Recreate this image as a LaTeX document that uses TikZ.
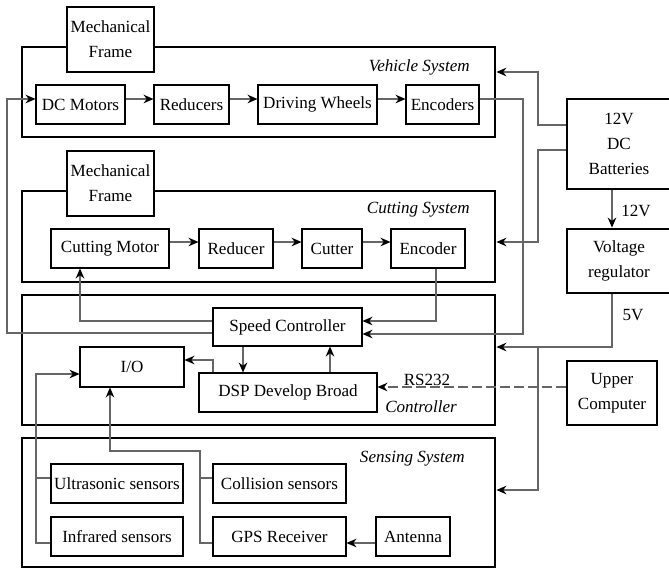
\documentclass[tikz,border=0pt]{standalone}
\usepackage{fontspec}
\setmainfont{Liberation Serif}
\usetikzlibrary{arrows.meta}
\newcommand\fs{\fontsize{12.8}{18.75}\selectfont}
\newcommand\fsi{\fontsize{12.8}{15}\selectfont\itshape}
% \bx{options}{name}{x1}{y1}{x2}{y2}{text}
\newcommand\bx[7]{\node[#1, minimum width={(#5-#3)*0.75pt}, minimum height={(#6-#4)*0.75pt}] (#2) at ({(#3+#5)/2},{(#4+#6)/2}) {#7};}
\begin{document}
\begin{tikzpicture}[x=0.75pt,y=-0.75pt,
 box/.style={draw=black,line width=0.8pt,fill=white,inner sep=0pt,align=center,font=\fs},
 bigbox/.style={box,line width=2.2pt},
 sys/.style={draw=black,line width=2.2pt,inner sep=0pt},
 lab/.style={font=\fsi,inner sep=0pt},
 txt/.style={font=\fs,inner sep=0pt},
 wire/.style={draw=black!60,line width=0.8pt},
 arr/.style={wire,-{Stealth[black,length=7.5pt,width=6.5pt,inset=2.5pt]}},
]
\useasboundingbox (0,0) rectangle (669,572);

% system frames
\bx{sys}{veh}{22}{47}{495}{137}{}
\bx{sys}{cut}{22}{191}{495}{282}{}
\bx{sys}{ctrl}{22}{295}{495}{425}{}
\bx{sys}{sens}{22}{438}{495}{567}{}

\node[lab, anchor=east] (lveh) at (470,67) {Vehicle System};
\node[lab, anchor=east] (lcut) at (470,210) {Cutting System};
\node[lab] (lctrl) at (421,407) {Controller};
\node[lab, anchor=east] (lsens) at (465,459) {Sensing System};

% vehicle system
\bx{box}{mf1}{67}{7}{154}{72}{Mechanical\\Frame}
\bx{box}{dc}{36}{85}{125}{124}{DC Motors}
\bx{box}{red}{154}{85}{229}{124}{Reducers}
\bx{box}{dw}{258}{85}{377}{124}{Driving Wheels}
\bx{box}{enc}{406}{85}{479}{124}{Encoders}

% cutting system
\bx{box}{mf2}{67}{151}{154}{216}{Mechanical\\Frame}
\bx{box}{cm}{51}{229}{169}{268}{Cutting Motor}
\bx{box}{rd}{199}{229}{273}{268}{Reducer}
\bx{box}{ct}{302}{229}{362}{268}{Cutter}
\bx{box}{enc2}{391}{229}{465}{268}{Encoder}

% controller
\bx{box}{spd}{213}{308}{362}{346}{Speed Controller}
\bx{box}{io}{80}{347}{184}{387}{I/O}
\bx{box}{dsp}{199}{373}{377}{412}{DSP Develop Broad}

% sensing
\bx{box}{us}{51}{464}{183}{503}{Ultrasonic sensors}
\bx{box}{ir}{51}{517}{183}{556}{Infrared sensors}
\bx{box}{col}{213}{464}{346}{503}{Collision sensors}
\bx{box}{gps}{213}{517}{346}{556}{GPS Receiver}
\bx{box}{ant}{376}{517}{450}{556}{Antenna}

% right column
\bx{bigbox}{bat}{567}{99}{672}{189}{}
\node[txt, align=center] (tbat) at (619,144) {12V\\DC\\Batteries};
\bx{bigbox}{vr}{567}{229}{672}{293}{}
\node[txt, align=center] (tvr) at (619,261) {Voltage\\regulator};
\bx{bigbox}{up}{567}{361}{657}{425}{Upper\\Computer}

\coordinate (cB) at (538,347);

% vehicle chain
\draw[arr] (dc.east |- 0,99) -- (red.west |- 0,99);
\draw[arr] (red.east |- 0,99) -- (dw.west |- 0,99);
\draw[arr] (dw.east |- 0,99) -- (enc.west |- 0,99);
% cutting chain
\draw[arr] (cm.east |- 0,242) -- (rd.west |- 0,242);
\draw[arr] (rd.east |- 0,242) -- (ct.west |- 0,242);
\draw[arr] (ct.east |- 0,242) -- (enc2.west |- 0,242);

% feedback
\draw[arr] (enc.east |- 0,99) -- (523,99) -- (523,334) -- (spd.east |- 0,334);
\draw[arr] (enc2.south -| 436,0) -- (436,321) -- (spd.east |- 0,321);
\draw[arr] (spd.west |- 0,321) -- (80,321) -- (cm.south -| 80,0);
\draw[arr] (spd.west |- 0,333) -- (7,333) -- (7,99) -- (dc.west |- 0,99);
\draw[arr] (spd.south -| 243,0) -- (dsp.north -| 243,0);
\draw[arr] (dsp.north -| 330,0) -- (spd.south -| 330,0);
\draw[arr] (dsp.north -| 213,0) -- (213,360) -- (io.east |- 0,360);

% power
\draw[arr] (bat.west |- 0,125) -- (538,125) -- (538,72) -- (veh.east |- 0,72);
\draw[arr] (bat.west |- 0,150) -- (538,150) -- (538,242) -- (cut.east |- 0,242);
\draw[arr] (bat.south -| 612,0) -- (vr.north -| 612,0);
\node[txt] (l12) at (636,211) {12V};
\draw[arr] (vr.south -| 612,0) -- (612,347) -- (ctrl.east |- 0,347);
\node[txt] (l5) at (633,315) {5V};
\draw[arr] (cB) -- (538,490) -- (sens.east |- 0,490);

% RS232
\draw[arr, dash pattern=on 7pt off 3.5pt] (up.west |- 0,387) -- (dsp.east |- 0,387);
\node[txt] (lrs) at (427,380) {RS232};

% sensors to I/O
\draw[wire] (us.west |- 0,478) -- (36,478);
\draw[arr] (ir.west |- 0,543) -- (36,543) -- (36,374) -- (io.west |- 0,374);
\draw[wire] (col.west |- 0,478) -- (200,478);
\draw[arr] (gps.west |- 0,543) -- (200,543) -- (200,451) -- (110,451) -- (io.south -| 110,0);
\draw[arr] (ant.west |- 0,543) -- (gps.east |- 0,543);
\end{tikzpicture}
\end{document}
